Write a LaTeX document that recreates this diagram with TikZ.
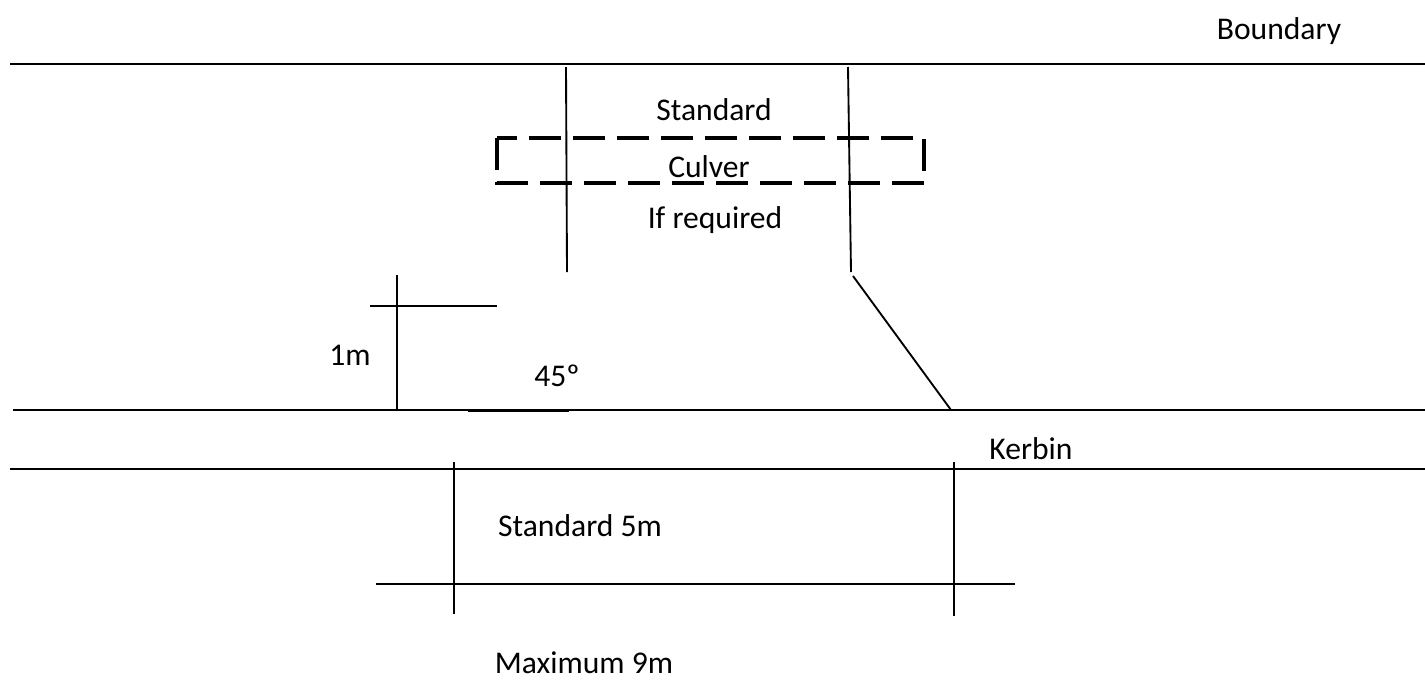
\documentclass[tikz,border=0pt]{standalone}
\usepackage{fontspec}
\setmainfont{Carlito}
\begin{document}
\begin{tikzpicture}[x=0.75pt,y=-0.75pt,
  ln/.style={line width=1.4pt},
  lbl/.style={inner sep=0pt,font=\fontsize{23.7}{28}\selectfont},
  culvert/.style={line width=3pt,dash pattern=on 24pt off 9pt}]
\useasboundingbox (0,0) rectangle (1425,679);
% horizontal lines
\draw[ln] (10,64) -- (1425,64);
\draw[ln] (13,410) -- (1425,410);
\draw[ln] (10,469) -- (1425,469);
\draw[line width=2pt] (468,411) -- (569,411);
% verticals through culvert
\draw[ln] (566,67) -- (567,272);
\draw[ln] (848,67) -- (851,272);
% slope
\draw[ln] (853,276) -- (951,410);
% culvert (dashed)
\draw[culvert] (497,138) rectangle (924,183);
% 1m dimension
\draw[ln] (397,275) -- (397,410);
\draw[ln] (370,306) -- (497,306);
% bottom dimensions
\draw[ln] (454,462) -- (454,614);
\draw[ln] (954,462) -- (954,616);
\draw[ln] (376,584) -- (1015,584);
% labels
\node[lbl] (boundary) at (1279,31) {Boundary};
\node[lbl] (standard) at (714,110) {Standard};
\node[lbl] (culver) at (709,167) {Culver};
\node[lbl] (ifreq) at (715,220) {If required};
\node[lbl] (onem) at (350,355) {1m};
\node[lbl] (angle) at (557,376) {45º};
\node[lbl] (kerbin) at (1031,449) {Kerbin};
\node[lbl] (std5) at (580,526) {Standard 5m};
\node[lbl] (max9) at (584,663) {Maximum 9m};
\end{tikzpicture}
\end{document}
